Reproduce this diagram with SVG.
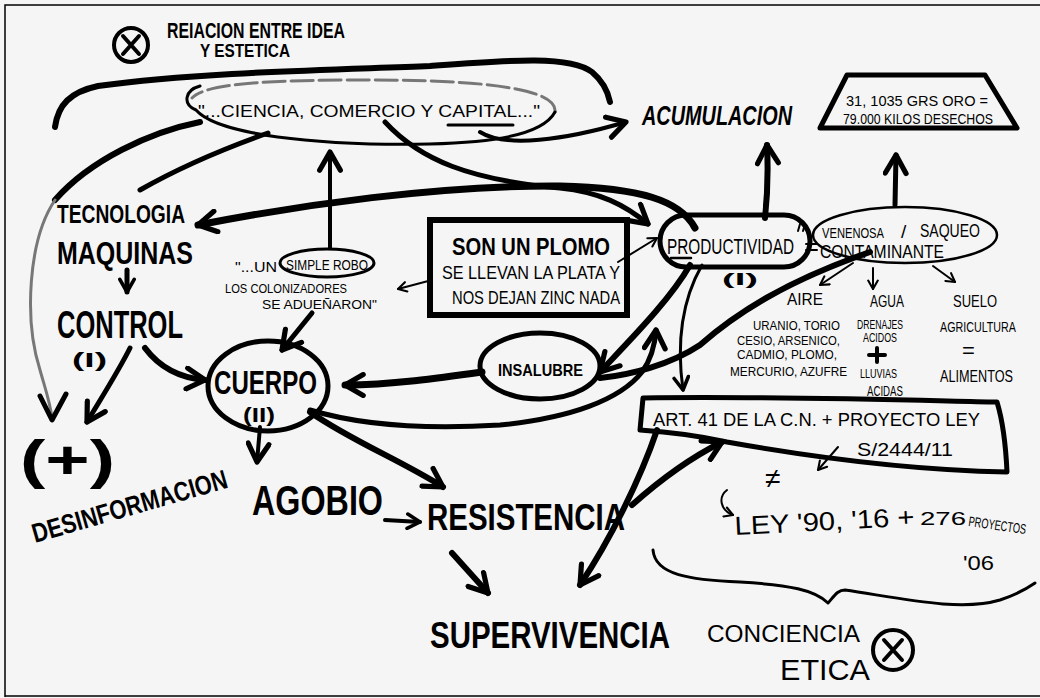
<svg xmlns="http://www.w3.org/2000/svg" width="1040" height="698" viewBox="0 0 1040 698">
<defs>
<style>
.t{font-family:"Liberation Sans","DejaVu Sans",sans-serif;font-weight:bold;fill:#000;}
.n{font-family:"Liberation Sans","DejaVu Sans",sans-serif;font-weight:normal;fill:#000;}
.s{fill:none;stroke:#000;stroke-linecap:round;stroke-linejoin:round;}
.g{fill:none;stroke:#777;stroke-linecap:round;stroke-linejoin:round;}
</style>
<marker id="ah" viewBox="0 0 20 20" refX="17" refY="10" markerWidth="26" markerHeight="26" markerUnits="userSpaceOnUse" orient="auto">
<path d="M3,2 L17,10 L3,18" fill="none" stroke="#000" stroke-width="4" stroke-linecap="round" stroke-linejoin="round"/>
</marker>
<marker id="am" viewBox="0 0 20 20" refX="17" refY="10" markerWidth="18" markerHeight="18" markerUnits="userSpaceOnUse" orient="auto">
<path d="M3,2 L17,10 L3,18" fill="none" stroke="#000" stroke-width="4" stroke-linecap="round" stroke-linejoin="round"/>
</marker>
<marker id="as" viewBox="0 0 20 20" refX="17" refY="10" markerWidth="12" markerHeight="12" markerUnits="userSpaceOnUse" orient="auto">
<path d="M3,2 L17,10 L3,18" fill="none" stroke="#000" stroke-width="3.5" stroke-linecap="round" stroke-linejoin="round"/>
</marker>
</defs>
<rect x="0" y="0" width="1040" height="698" fill="#f5f5f5"/>
<path d="M5,697 L5,5 L1040,5 M5,696 L1040,696" fill="none" stroke="#000" stroke-width="1.5"/>

<g id="connectors">
<path class="s" stroke-width="6" d="M55,127 C58,105 70,92 98,86 C200,72 330,70 430,66 C510,60 570,55 592,72 C604,82 608,92 610,102"/>
<path class="s" stroke-width="4" marker-end="url(#ah)" d="M480,132 C505,148 565,140 626,122"/>
<path class="s" stroke-width="6" d="M200,122 C150,132 90,160 55,200"/>
<path class="g" stroke-width="3" d="M55,200 C28,240 24,320 40,370 C45,388 50,402 52,418"/>
<path class="s" stroke-width="5" d="M40,396 L52,420 L66,394"/>
<path class="s" stroke-width="5" d="M268,133 C220,150 175,170 140,190"/>
<path class="s" stroke-width="5" marker-end="url(#ah)" d="M385,122 C420,160 470,180 560,188 C600,192 625,205 648,224"/>
<path class="s" stroke-width="7" marker-end="url(#ah)" d="M695,228 C680,200 640,188 560,186 C440,185 300,205 198,225"/>
<path class="s" stroke-width="4" marker-end="url(#ah)" d="M330,248 L330,152"/>
<path class="s" stroke-width="5" marker-end="url(#am)" d="M127,270 L127,292"/>
<path class="s" stroke-width="5" marker-end="url(#ah)" d="M130,348 C118,372 100,400 87,422"/>
<path class="s" stroke-width="6" marker-end="url(#ah)" d="M145,348 C160,368 180,378 205,380"/>
<path class="s" stroke-width="5" marker-end="url(#ah)" d="M312,313 L282,350"/>
<path class="s" stroke-width="2" marker-end="url(#as)" d="M432,280 L398,289"/>
<path class="s" stroke-width="2" marker-end="url(#as)" d="M618,262 L657,238"/>
<path class="s" stroke-width="7" marker-end="url(#ah)" d="M482,372 C440,378 390,385 345,385"/>
<path class="s" stroke-width="6" marker-end="url(#ah)" d="M690,265 C670,300 630,340 600,372"/>
<path class="s" stroke-width="6" d="M870,252 C790,280 740,310 700,345 C670,365 630,375 600,378"/>
<path class="s" stroke-width="3" marker-end="url(#am)" d="M702,265 C682,300 676,340 683,390"/>
<path class="s" stroke-width="5" marker-end="url(#ah)" d="M310,410 C360,425 420,430 500,425 C570,418 620,400 642,372 C652,358 655,345 656,330"/>
<path class="s" stroke-width="6" marker-end="url(#ah)" d="M765,218 C768,190 768,165 767,145"/>
<path class="s" stroke-width="5" marker-end="url(#ah)" d="M895,205 L896,155"/>
<path class="s" stroke-width="2" marker-end="url(#as)" d="M853,263 L820,285"/>
<path class="s" stroke-width="2" marker-end="url(#as)" d="M873,268 L873,289"/>
<path class="s" stroke-width="2" marker-end="url(#as)" d="M933,266 L955,282"/>
<path class="s" stroke-width="6" marker-end="url(#ah)" d="M657,430 C640,480 610,540 580,585"/>
<path class="s" stroke-width="6" marker-end="url(#ah)" d="M632,505 C660,480 690,458 722,442"/>
<path class="s" stroke-width="2" marker-end="url(#as)" d="M838,447 L818,470"/>
<path class="s" stroke-width="2" marker-end="url(#as)" d="M727,490 C718,497 720,510 733,515"/>
<path class="s" stroke-width="4" marker-end="url(#ah)" d="M260,427 L257,462"/>
<path class="s" stroke-width="6" marker-end="url(#ah)" d="M310,412 C350,440 400,460 443,487"/>
<path class="s" stroke-width="4" marker-end="url(#am)" d="M385,520 L420,522"/>
<path class="s" stroke-width="6" marker-end="url(#ah)" d="M452,553 L488,593"/>
<path class="s" stroke-width="3" d="M653,550 C655,575 690,580 740,582 C790,585 815,590 828,603 C835,595 838,590 845,590 C900,598 960,612 1000,600 C1015,595 1025,590 1035,583"/>
</g>

<g id="title">
<circle cx="131" cy="45" r="17" fill="none" stroke="#000" stroke-width="4"/>
<path class="s" stroke-width="4" d="M123,36 L139,54 M139,36 L123,54"/>
<text class="t" x="167" y="38" font-size="22" textLength="178" lengthAdjust="spacingAndGlyphs">REIACION ENTRE IDEA</text>
<text class="t" x="200" y="57" font-size="19" textLength="90" lengthAdjust="spacingAndGlyphs">Y ESTETICA</text>
</g>

<g id="ciencia">
<path class="g" stroke-width="3" stroke-dasharray="22 6" d="M555,112 C558,88 480,80 370,80 C260,80 205,84 192,98"/>
<path class="s" stroke-width="3" d="M200,86 C185,90 182,104 196,110 C210,126 260,140 370,144 C470,146 540,140 555,112"/>
<text class="n" x="198" y="117" font-size="17" textLength="342" lengthAdjust="spacingAndGlyphs">"...CIENCIA, COMERCIO Y CAPITAL..."</text>
<path class="s" stroke-width="3" d="M448,125 L513,125"/>
</g>

<g id="acumulacion">
<text class="t" x="642" y="125" font-size="27" font-style="italic" textLength="150" lengthAdjust="spacingAndGlyphs">ACUMULACION</text>
</g>

<g id="oro">
<path class="s" stroke-width="5" d="M847,75 L985,75 L1017,128 L820,128 Z"/>
<text class="n" x="846" y="106" font-size="15" textLength="142" lengthAdjust="spacingAndGlyphs">31, 1035 GRS ORO =</text>
<text class="n" x="843" y="124" font-size="14" textLength="150" lengthAdjust="spacingAndGlyphs">79.000 KILOS DESECHOS</text>
</g>

<g id="tecnologia">
<text class="t" x="57" y="223" font-size="25" textLength="128" lengthAdjust="spacingAndGlyphs">TECNOLOGIA</text>
<text class="t" x="57" y="264" font-size="31" textLength="136" lengthAdjust="spacingAndGlyphs">MAQUINAS</text>
</g>

<g id="control">
<text class="t" x="57" y="338" font-size="39" textLength="126" lengthAdjust="spacingAndGlyphs">CONTROL</text>
<text class="t" x="72" y="367" font-size="20" textLength="35" lengthAdjust="spacingAndGlyphs">(I)</text>
</g>

<g id="mas">
<text class="t" x="20" y="478" font-size="54" textLength="95" lengthAdjust="spacingAndGlyphs">(+)</text>
</g>

<g id="desinformacion">
<text class="t" x="35" y="543" font-size="27" textLength="202" lengthAdjust="spacingAndGlyphs" transform="rotate(-16 35 543)">DESINFORMACION</text>
</g>

<g id="robo">
<ellipse cx="327" cy="263" rx="47" ry="14" fill="none" stroke="#000" stroke-width="3"/>
<text class="n" x="235" y="272" font-size="14" textLength="42" lengthAdjust="spacingAndGlyphs">"...UN</text>
<text class="n" x="286" y="270" font-size="14" textLength="82" lengthAdjust="spacingAndGlyphs">SIMPLE ROBO</text>
<text class="n" x="225" y="293" font-size="13" textLength="122" lengthAdjust="spacingAndGlyphs">LOS COLONIZADORES</text>
<text class="n" x="262" y="309" font-size="13" textLength="115" lengthAdjust="spacingAndGlyphs">SE ADUEÑARON"</text>
</g>

<g id="cuerpo">
<ellipse cx="268" cy="386" rx="60" ry="45" fill="none" stroke="#000" stroke-width="5"/>
<text class="t" x="214" y="394" font-size="33" textLength="103" lengthAdjust="spacingAndGlyphs">CUERPO</text>
<text class="t" x="243" y="422" font-size="20" textLength="32" lengthAdjust="spacingAndGlyphs">(II)</text>
</g>

<g id="plomo">
<rect x="430" y="220" width="197" height="95" fill="none" stroke="#000" stroke-width="6"/>
<text class="t" x="452" y="255" font-size="23" textLength="158" lengthAdjust="spacingAndGlyphs">SON UN PLOMO</text>
<text class="n" x="442" y="279" font-size="18" textLength="178" lengthAdjust="spacingAndGlyphs">SE LLEVAN LA PLATA Y</text>
<text class="n" x="452" y="304" font-size="19" textLength="168" lengthAdjust="spacingAndGlyphs">NOS DEJAN ZINC NADA</text>
</g>

<g id="productividad">
<rect x="660" y="215" width="150" height="52" rx="26" fill="none" stroke="#000" stroke-width="5"/>
<text class="n" x="667" y="254" font-size="22" textLength="127" lengthAdjust="spacingAndGlyphs">PRODUCTIVIDAD</text>
<path class="s" stroke-width="2.5" d="M671,258 L691,258"/>
<path class="s" stroke-width="2" d="M800,224 L798,231 M805,224 L803,231"/>
<text class="t" x="722" y="285" font-size="16" textLength="36" lengthAdjust="spacingAndGlyphs">(I)</text>
<path class="s" stroke-width="2" d="M806,244 L817,244 M806,250 L817,250"/>
</g>

<g id="contaminante">
<ellipse cx="905" cy="235" rx="92" ry="28" fill="none" stroke="#000" stroke-width="2.5"/>
<text class="n" x="822" y="238" font-size="14" textLength="62" lengthAdjust="spacingAndGlyphs">VENENOSA</text>
<text class="n" x="901" y="238" font-size="19">/</text>
<text class="n" x="920" y="237" font-size="19" textLength="60" lengthAdjust="spacingAndGlyphs">SAQUEO</text>
<text class="n" x="820" y="258" font-size="19" textLength="124" lengthAdjust="spacingAndGlyphs">CONTAMINANTE</text>
</g>

<g id="aire">
<text class="n" x="787" y="305" font-size="17" textLength="36" lengthAdjust="spacingAndGlyphs">AIRE</text>
<text class="n" x="753" y="330" font-size="13" textLength="87" lengthAdjust="spacingAndGlyphs">URANIO, TORIO</text>
<text class="n" x="737" y="345" font-size="13" textLength="103" lengthAdjust="spacingAndGlyphs">CESIO, ARSENICO,</text>
<text class="n" x="737" y="359" font-size="13" textLength="100" lengthAdjust="spacingAndGlyphs">CADMIO, PLOMO,</text>
<text class="n" x="730" y="376" font-size="13" textLength="117" lengthAdjust="spacingAndGlyphs">MERCURIO, AZUFRE</text>
</g>

<g id="agua">
<text class="n" x="870" y="307" font-size="16" textLength="34" lengthAdjust="spacingAndGlyphs">AGUA</text>
<text class="n" x="857" y="329" font-size="13" textLength="46" lengthAdjust="spacingAndGlyphs">DRENAJES</text>
<text class="n" x="863" y="342" font-size="12" textLength="34" lengthAdjust="spacingAndGlyphs">ACIDOS</text>
<path class="s" stroke-width="4" d="M877,348 L877,362 M869,355 L885,355"/>
<text class="n" x="860" y="378" font-size="12" textLength="37" lengthAdjust="spacingAndGlyphs">LLUVIAS</text>
<text class="n" x="867" y="396" font-size="14" textLength="36" lengthAdjust="spacingAndGlyphs">ACIDAS</text>
</g>

<g id="suelo">
<text class="n" x="953" y="307" font-size="17" textLength="44" lengthAdjust="spacingAndGlyphs">SUELO</text>
<text class="n" x="940" y="332" font-size="15" textLength="76" lengthAdjust="spacingAndGlyphs">AGRICULTURA</text>
<text class="n" x="962" y="358" font-size="22">=</text>
<text class="n" x="940" y="382" font-size="16" textLength="73" lengthAdjust="spacingAndGlyphs">ALIMENTOS</text>
</g>

<g id="insalubre">
<ellipse cx="540" cy="366" rx="60" ry="33" fill="none" stroke="#000" stroke-width="5"/>
<text class="t" x="498" y="376" font-size="17" textLength="85" lengthAdjust="spacingAndGlyphs">INSALUBRE</text>
</g>

<g id="art">
<path class="s" stroke-width="5" d="M643,398 C760,396 900,400 997,402 C1004,425 1006,450 1007,472 C900,470 800,455 727,442 C700,436 670,432 640,430 Z"/>
<text class="n" x="653" y="426" font-size="19" textLength="327" lengthAdjust="spacingAndGlyphs">ART. 41 DE LA C.N. + PROYECTO LEY</text>
<text class="n" x="857" y="456" font-size="19" textLength="96" lengthAdjust="spacingAndGlyphs">S/2444/11</text>
<text class="n" x="765" y="488" font-size="28">≠</text>
</g>

<g id="ley">
<text class="n" x="735" y="535" font-size="26" textLength="180" lengthAdjust="spacingAndGlyphs" transform="rotate(-3 735 535)">LEY '90, '16 +</text>
<text class="n" x="920" y="525" font-size="19" textLength="46" lengthAdjust="spacingAndGlyphs">276</text>
<text class="n" x="968" y="526" font-size="14" textLength="58" lengthAdjust="spacingAndGlyphs" transform="rotate(8 968 526)">PROYECTOS</text>
<text class="n" x="963" y="570" font-size="20" textLength="31" lengthAdjust="spacingAndGlyphs">'06</text>
</g>

<g id="agobio">
<text class="t" x="252" y="515" font-size="42" textLength="131" lengthAdjust="spacingAndGlyphs">AGOBIO</text>
</g>
<g id="resistencia">
<text class="t" x="427" y="530" font-size="36" textLength="198" lengthAdjust="spacingAndGlyphs">RESISTENCIA</text>
</g>
<g id="supervivencia">
<text class="t" x="430" y="648" font-size="36" textLength="240" lengthAdjust="spacingAndGlyphs">SUPERVIVENCIA</text>
</g>

<g id="conciencia">
<text class="n" x="707" y="642" font-size="24" textLength="153" lengthAdjust="spacingAndGlyphs">CONCIENCIA</text>
<text class="n" x="780" y="680" font-size="30" textLength="90" lengthAdjust="spacingAndGlyphs">ETICA</text>
<circle cx="893" cy="650" r="20" fill="none" stroke="#000" stroke-width="4"/>
<path class="s" stroke-width="4" d="M884,640 L902,660 M902,640 L884,660"/>
</g>
</svg>
